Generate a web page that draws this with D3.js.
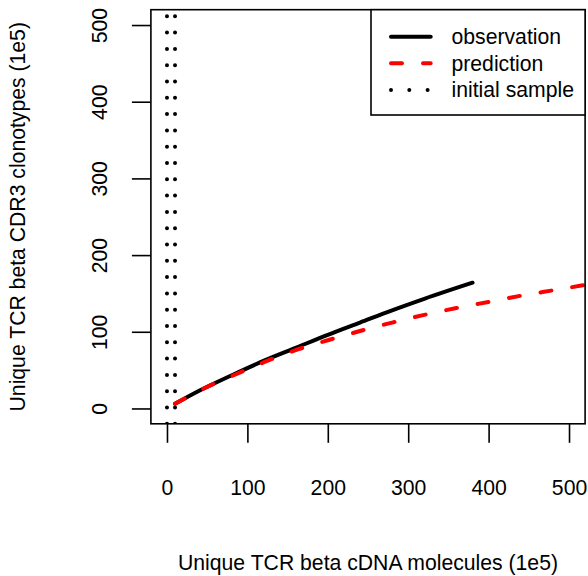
<!DOCTYPE html>
<html>
<head>
<meta charset="utf-8">
<script src="https://cdn.jsdelivr.net/npm/d3@7"></script>
<style>
  html, body { margin: 0; padding: 0; background: #fff; }
  svg { display: block; }
  text { font-family: "Liberation Sans", Arial, sans-serif; fill: #000; }
</style>
</head>
<body>
<svg id="chart" width="588" height="576"></svg>
<script>
// ---- data (units of 1e5) ----
const xTicks = [0, 100, 200, 300, 400, 500];
const yTicks = [0, 100, 200, 300, 400, 500];
const observationX = [10, 40, 80, 120, 160, 200, 240, 280, 320, 380];
const observationY = [6, 23, 43, 62, 79, 96, 112, 128, 143, 164];
const predictionX = [10, 40, 80, 120, 160, 200, 240, 280, 320, 360, 400, 440, 480, 520, 560];
const predictionY = [6, 23, 42, 60, 76, 89, 101, 112, 122, 131, 139, 147, 154, 161, 167];
const initialSample = [0, 10];
const legendLabels = ["observation", "prediction", "initial sample"];
const xTitle = "Unique TCR beta cDNA molecules (1e5)";
const yTitle = "Unique TCR beta CDR3 clonotypes (1e5)";

(function () {
const svg = d3.select("#chart");
const W = 588, H = 576;
svg.append("rect").attr("width", W).attr("height", H).attr("fill", "#fff");

const pL = 150.9, pR = 585.1, pT = 9.7, pB = 423.8;
const x = d3.scaleLinear().domain([-20, 520]).range([pL, pR]);
const y = d3.scaleLinear().domain([-20, 520]).range([pB, pT]);
const FS = 21.2;
const FF = '"Liberation Sans", Arial, sans-serif';

svg.append("defs").append("clipPath").attr("id", "plotclip")
  .append("rect").attr("x", pL).attr("y", pT)
  .attr("width", pR - pL).attr("height", pB - pT);

const plot = svg.append("g").attr("clip-path", "url(#plotclip)");

// initial sample vertical dotted lines
initialSample.forEach(v => {
  plot.append("line")
    .attr("x1", x(v)).attr("x2", x(v))
    .attr("y1", y(-20)).attr("y2", y(520))
    .attr("stroke", "#000").attr("stroke-width", 4)
    .attr("stroke-linecap", "round")
    .attr("stroke-dasharray", "0 16.3");
});

const line = d3.line().x(d => x(d[0])).y(d => y(d[1])).curve(d3.curveMonotoneX);

plot.append("path")
  .datum(observationX.map((v, i) => [v, observationY[i]]))
  .attr("d", line).attr("fill", "none")
  .attr("stroke", "#000").attr("stroke-width", 4)
  .attr("stroke-linecap", "round").attr("stroke-linejoin", "round");

plot.append("path")
  .datum(predictionX.map((v, i) => [v, predictionY[i]]))
  .attr("d", line).attr("fill", "none")
  .attr("stroke", "#ff0000").attr("stroke-width", 4)
  .attr("stroke-linecap", "round").attr("stroke-linejoin", "round")
  .attr("stroke-dasharray", "11 21");

// axes
const xAxis = svg.append("g").attr("transform", `translate(0,${pB})`)
  .call(d3.axisBottom(x).tickValues(xTicks).tickSize(19).tickPadding(37).tickFormat(d3.format("d")));
xAxis.select(".domain").remove();
xAxis.selectAll(".tick line").attr("stroke", "#000").attr("stroke-width", 1.6);
xAxis.selectAll(".tick text").attr("font-size", FS).style("font-family", FF)
  .attr("dy", null).attr("y", 495 - pB);

const yAxis = svg.append("g").attr("transform", `translate(${pL},0)`)
  .call(d3.axisLeft(y).tickValues(yTicks).tickSize(19).tickFormat(d3.format("d")));
yAxis.select(".domain").remove();
yAxis.selectAll(".tick line").attr("stroke", "#000").attr("stroke-width", 1.6);
yAxis.selectAll(".tick text")
  .attr("x", null).attr("dy", null).attr("y", 0)
  .attr("transform", `translate(${106.7 - pL},0) rotate(-90)`)
  .attr("text-anchor", "middle")
  .attr("font-size", FS).style("font-family", FF);

// plot box
svg.append("rect").attr("x", pL).attr("y", pT)
  .attr("width", pR - pL).attr("height", pB - pT)
  .attr("fill", "none").attr("stroke", "#000").attr("stroke-width", 1.6);

// titles
svg.append("text").attr("x", (pL + pR) / 2).attr("y", 569.5)
  .attr("text-anchor", "middle").attr("font-size", FS).text(xTitle);
svg.append("text")
  .attr("transform", `translate(24.5,${(pT + pB) / 2}) rotate(-90)`)
  .attr("text-anchor", "middle").attr("font-size", FS).text(yTitle);

// legend
const lg = svg.append("g");
lg.append("rect").attr("x", 371).attr("y", pT).attr("width", pR - 371).attr("height", 115 - pT)
  .attr("fill", "#fff").attr("stroke", "#000").attr("stroke-width", 1.6);
const styles = [
  { stroke: "#000", dash: null },
  { stroke: "#ff0000", dash: "11 21" },
  { stroke: "#000", dash: "0 18.3" }
];
const rowY = [36.7, 63.3, 90];
legendLabels.forEach((lab, i) => {
  const ln = lg.append("line")
    .attr("x1", 391).attr("x2", 430.7).attr("y1", rowY[i]).attr("y2", rowY[i])
    .attr("stroke", styles[i].stroke).attr("stroke-width", 4)
    .attr("stroke-linecap", "round");
  if (styles[i].dash) ln.attr("stroke-dasharray", styles[i].dash);
  lg.append("text").attr("x", 451.5).attr("y", rowY[i]).attr("dy", "0.35em")
    .attr("font-size", FS).text(lab);
});
})();
</script>
</body>
</html>
